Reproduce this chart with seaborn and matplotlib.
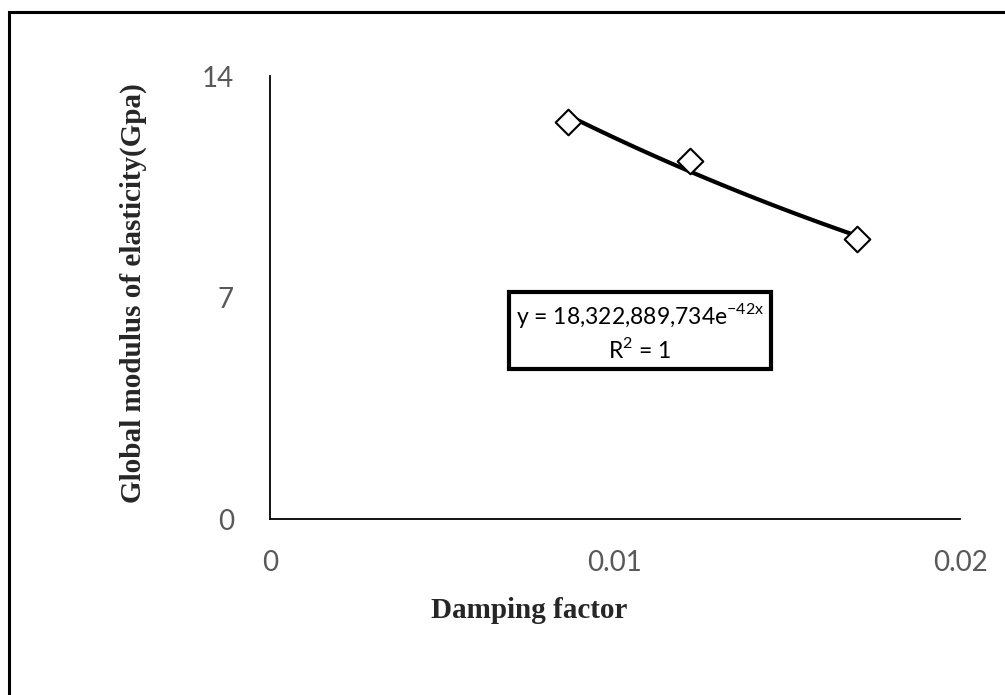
import numpy as np
import seaborn as sns
import matplotlib.pyplot as plt
from matplotlib.patches import Rectangle

# dati
damping = [0.00864, 0.01217, 0.01701]
modulus = [12.54, 11.31, 8.84]
x_ticks = [0, 0.01, 0.02]
x_tick_labels = ['0', '0.01', '0.02']
y_ticks = [0, 7, 14]
y_tick_labels = ['0', '7', '14']
eq_text = 'y = 18,322,889,734e$^{\\mathregular{-42x}}$\nR$^{\\mathregular{2}}$ = 1'

sns.set_style('white')
plt.rcParams['font.family'] = ['Lato', 'DejaVu Sans']

fig = plt.figure(figsize=(10.05, 6.95), dpi=100)
ax = fig.add_axes([0.2687, 0.2532, 0.6866, 0.6374])

# cornice esterna (solo sopra e a sinistra visibili)
fig.patches.append(Rectangle((0.009, -0.1), 1.2, 1.083, transform=fig.transFigure,
                             fill=False, edgecolor='black', linewidth=2.2))

sns.scatterplot(x=damping, y=modulus, marker='D', s=170, facecolor='white',
                edgecolor='black', linewidth=1.5, ax=ax, zorder=3)

# trendline esponenziale
b, log_a = np.polyfit(damping, np.log(modulus), 1)
xs = np.linspace(min(damping), max(damping), 100)
sns.lineplot(x=xs, y=np.exp(log_a) * np.exp(b * xs), color='black', linewidth=3, ax=ax, zorder=2)

ax.set_xlim(0, 0.02)
ax.set_ylim(0, 14)
ax.set_xticks(x_ticks)
ax.set_xticklabels(x_tick_labels)
ax.set_yticks(y_ticks)
ax.set_yticklabels(y_tick_labels)
ax.tick_params(axis='both', length=0, labelsize=20, labelcolor='#595959')
ax.tick_params(axis='x', pad=22)
ax.tick_params(axis='y', pad=26)

for side in ['top', 'right']:
    ax.spines[side].set_visible(False)
for side in ['left', 'bottom']:
    ax.spines[side].set_color('black')
    ax.spines[side].set_linewidth(1.3)

ax.set_xlabel('Damping factor', fontsize=21, fontweight='bold', family='Liberation Serif')
ax.xaxis.set_label_coords(0.375, -0.177)
ax.set_ylabel('Global modulus of elasticity(Gpa)', fontsize=21, fontweight='bold',
              family='Liberation Serif')
ax.yaxis.set_label_coords(-0.178, 0.51)

ax.text(0.01072, 5.92, eq_text, ha='center', va='center', fontsize=16.5, color='black',
        linespacing=1.35,
        bbox=dict(boxstyle='square,pad=0.3', facecolor='white', edgecolor='black', linewidth=3))

plt.savefig('out.png', dpi=100)
plt.close()
